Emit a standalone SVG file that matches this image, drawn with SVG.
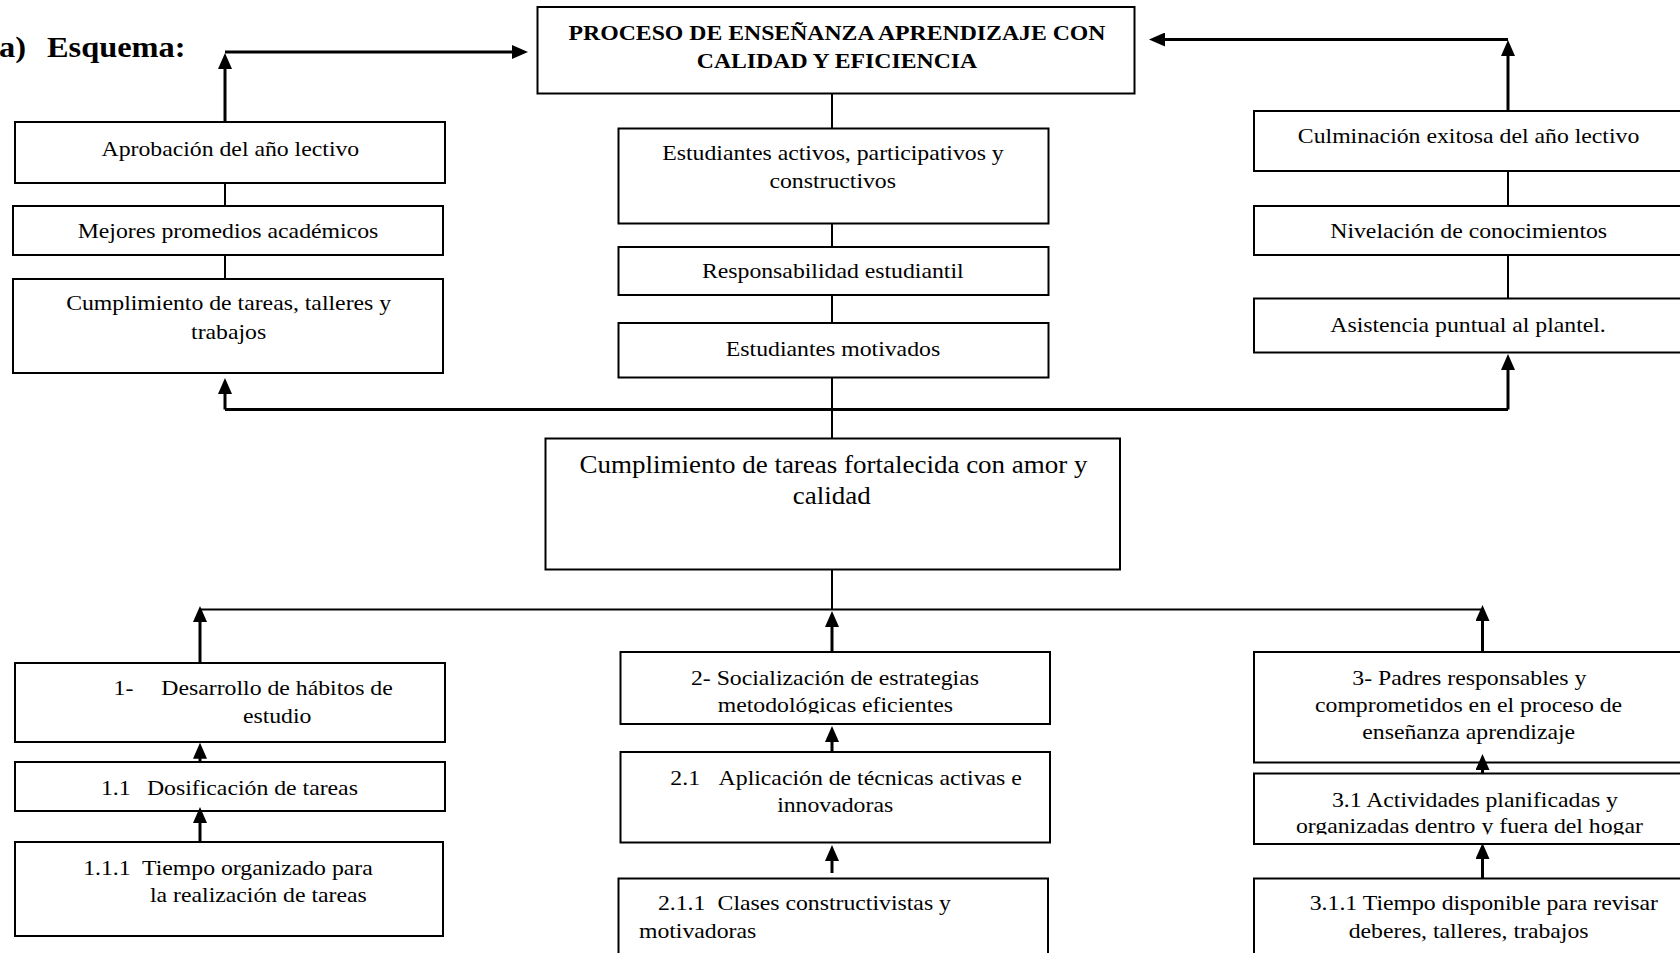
<svg xmlns="http://www.w3.org/2000/svg" width="1680" height="953" viewBox="0 0 1680 953">
<style>
.bx{fill:#fff;stroke:#000;stroke-width:2}
.t{font-family:"Liberation Serif","Times New Roman",serif;font-size:22px;fill:#000}
.c{text-anchor:middle}
.b{font-weight:bold}
.big{font-size:25px}
.ttl{font-size:30px;font-weight:bold}
.ln{fill:none;stroke:#000;stroke-width:2}
.ar{fill:none;stroke:#000;stroke-width:3}
.ae{marker-end:url(#ah)}
</style>
<defs>
<marker id="ah" viewBox="0 0 16 14" refX="6" refY="7" markerWidth="16" markerHeight="14" markerUnits="userSpaceOnUse" orient="auto"><path d="M0,0 L16,7 L0,14 Z" fill="#000"/></marker>
<clipPath id="clipN" clipPathUnits="userSpaceOnUse"><rect x="0" y="600" width="1600" height="113.5"/></clipPath>
<clipPath id="clipR" clipPathUnits="userSpaceOnUse"><rect x="0" y="750" width="1600" height="84.5"/></clipPath>
</defs>
<rect x="0" y="0" width="1680" height="953" fill="#fff"/>

<g id="title">
<text class="t ttl" transform="scale(1.08 1)" y="57"><tspan x="-1">a)</tspan><tspan x="43.5">Esquema:</tspan></text>
</g>

<g id="nodeP">
<rect class="bx" x="537.5" y="7" width="597" height="86.5"/>
<text class="t b c" transform="scale(1.08 1)" x="775" y="40">PROCESO DE ENSEÑANZA APRENDIZAJE CON</text>
<text class="t b c" transform="scale(1.08 1)" x="775" y="68.5">CALIDAD Y EFICIENCIA</text>
</g>

<g id="nodeA">
<rect class="bx" x="15" y="122" width="430" height="61"/>
<text class="t c" transform="scale(1.08 1)" x="213.3" y="156">Aprobación del año lectivo</text>
</g>
<g id="nodeB">
<rect class="bx" x="13" y="206" width="430" height="49"/>
<text class="t c" transform="scale(1.08 1)" x="211.1" y="238.3">Mejores promedios académicos</text>
</g>
<g id="nodeC">
<rect class="bx" x="13" y="279" width="430" height="94"/>
<text class="t c" transform="scale(1.08 1)" x="211.7" y="310.5">Cumplimiento de tareas, talleres y</text>
<text class="t c" transform="scale(1.08 1)" x="211.7" y="339">trabajos</text>
</g>

<g id="nodeE">
<rect class="bx" x="618.5" y="128.5" width="430" height="95"/>
<text class="t c" transform="scale(1.08 1)" x="771.3" y="160">Estudiantes activos, participativos y</text>
<text class="t c" transform="scale(1.08 1)" x="771" y="188.3">constructivos</text>
</g>
<g id="nodeF">
<rect class="bx" x="618.5" y="247" width="430" height="48"/>
<text class="t c" transform="scale(1.08 1)" x="771.1" y="278.3">Responsabilidad estudiantil</text>
</g>
<g id="nodeG">
<rect class="bx" x="618.5" y="323" width="430" height="54.5"/>
<text class="t c" transform="scale(1.08 1)" x="771.3" y="356">Estudiantes motivados</text>
</g>

<g id="nodeH">
<rect class="bx" x="1254" y="111" width="500" height="60"/>
<text class="t c" transform="scale(1.08 1)" x="1359.8" y="143.3">Culminación exitosa del año lectivo</text>
</g>
<g id="nodeI">
<rect class="bx" x="1254" y="206" width="500" height="49"/>
<text class="t c" transform="scale(1.08 1)" x="1359.9" y="238.3">Nivelación de conocimientos</text>
</g>
<g id="nodeJ">
<rect class="bx" x="1254" y="298.5" width="500" height="54"/>
<text class="t c" transform="scale(1.08 1)" x="1359.3" y="331.7">Asistencia puntual al plantel.</text>
</g>

<g id="nodeD">
<rect class="bx" x="545.5" y="438.5" width="574.5" height="131"/>
<text class="t c big" transform="scale(1.08 1)" x="771.8" y="473.3">Cumplimiento de tareas fortalecida con amor y</text>
<text class="t c big" transform="scale(1.08 1)" x="770.2" y="504.3">calidad</text>
</g>

<g id="nodeK">
<rect class="bx" x="15" y="663" width="430" height="79"/>
<text class="t" transform="scale(1.08 1)" y="695"><tspan x="105.2">1-</tspan><tspan x="149.4">Desarrollo de hábitos de</tspan></text>
<text class="t" transform="scale(1.08 1)" x="224.9" y="723.3">estudio</text>
</g>
<g id="nodeL">
<rect class="bx" x="15" y="762" width="430" height="49"/>
<text class="t" transform="scale(1.08 1)" y="795"><tspan x="93.5">1.1</tspan><tspan x="136.1">Dosificación de tareas</tspan></text>
</g>
<g id="nodeM">
<rect class="bx" x="15" y="842" width="428" height="94"/>
<text class="t" transform="scale(1.08 1)" y="875"><tspan x="77">1.1.1</tspan><tspan x="131.5">Tiempo organizado para</tspan></text>
<text class="t" transform="scale(1.08 1)" x="138.9" y="902.3">la realización de tareas</text>
</g>

<g id="nodeN">
<rect class="bx" x="620.5" y="652" width="429.5" height="72"/>
<text class="t c" transform="scale(1.08 1)" x="773.1" y="685">2- Socialización de estrategias</text>
<text class="t c" transform="scale(1.08 1)" x="773.5" y="712" clip-path="url(#clipN)">metodológicas eficientes</text>
</g>
<g id="nodeO">
<rect class="bx" x="620.5" y="752" width="429.5" height="90.5"/>
<text class="t" transform="scale(1.08 1)" y="785"><tspan x="620.7">2.1</tspan><tspan x="665.4">Aplicación de técnicas activas e</tspan></text>
<text class="t c" transform="scale(1.08 1)" x="773.3" y="811.7">innovadoras</text>
</g>
<g id="nodeP2">
<rect class="bx" x="618.5" y="878.5" width="429.5" height="100"/>
<text class="t" transform="scale(1.08 1)" y="910"><tspan x="609.2">2.1.1</tspan><tspan x="664.4">Clases constructivistas y</tspan></text>
<text class="t" transform="scale(1.08 1)" x="591.6" y="938.3">motivadoras</text>
</g>

<g id="nodeQ">
<rect class="bx" x="1254" y="652" width="500" height="110.5"/>
<text class="t c" transform="scale(1.08 1)" x="1360.5" y="685">3- Padres responsables y</text>
<text class="t c" transform="scale(1.08 1)" x="1359.8" y="711.7">comprometidos en el proceso de</text>
<text class="t c" transform="scale(1.08 1)" x="1359.9" y="739.3">enseñanza aprendizaje</text>
</g>
<g id="nodeR">
<rect class="bx" x="1254" y="773.5" width="500" height="70.5"/>
<text class="t c" transform="scale(1.08 1)" x="1365.7" y="806.7">3.1 Actividades planificadas y</text>
<text class="t c" transform="scale(1.08 1)" x="1360.6" y="833.5" clip-path="url(#clipR)">organizadas dentro y fuera del hogar</text>
</g>
<g id="nodeS">
<rect class="bx" x="1254" y="878.5" width="500" height="100"/>
<text class="t c" transform="scale(1.08 1)" x="1373.9" y="910">3.1.1 Tiempo disponible para revisar</text>
<text class="t c" transform="scale(1.08 1)" x="1359.8" y="938.3">deberes, talleres, trabajos</text>
</g>

<g id="connectors">
<path class="ar ae" d="M225,122 V63"/>
<path class="ar ae" d="M225,52 H518"/>
<path class="ar ae" d="M1508,111 V50"/>
<path class="ar ae" d="M1508,39.5 H1159"/>
<path class="ar" d="M225,409.5 H1508"/>
<path class="ar ae" d="M225,409.5 V388"/>
<path class="ar ae" d="M1508,409.5 V364"/>
<path class="ln" d="M832,93.5 V128.5 M832,223.5 V247 M832,295 V323 M832,377.5 V438.5"/>
<path class="ln" d="M225,183 V206 M225,255 V279"/>
<path class="ln" d="M1508,171 V206 M1508,255 V298.5"/>
<path class="ln" d="M832,569.5 V609.5 M200,609.5 H1482.5"/>
<path class="ar ae" d="M200,663 V616"/>
<path class="ar ae" d="M832,652 V621"/>
<path class="ar ae" d="M1482.5,652 V615"/>
<path class="ar ae" d="M200,762 V752.7"/>
<path class="ar ae" d="M200,842 V817"/>
<path class="ar ae" d="M832,752 V736"/>
<path class="ar ae" d="M832,873 V855"/>
<path class="ar ae" d="M1482.5,773.5 V764"/>
<path class="ar ae" d="M1482.5,878.5 V853"/>
</g>
</svg>
